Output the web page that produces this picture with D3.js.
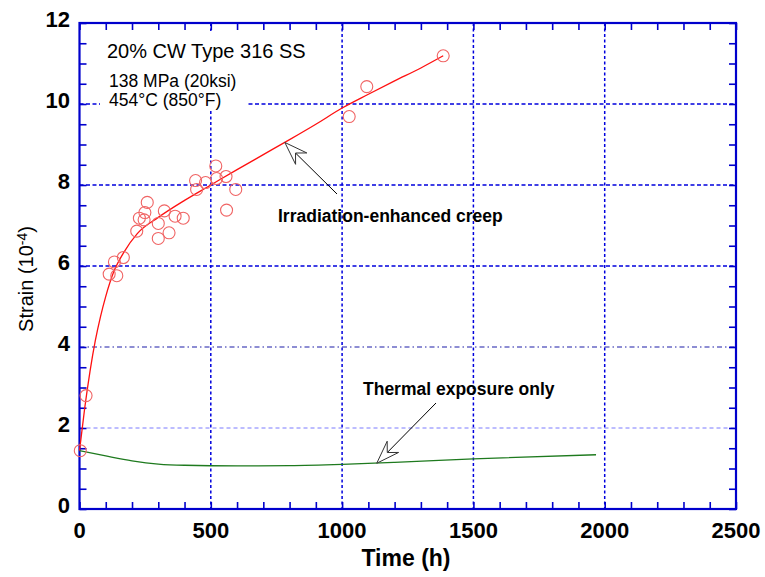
<!DOCTYPE html>
<html>
<head>
<meta charset="utf-8">
<script src="https://cdn.jsdelivr.net/npm/d3@7/dist/d3.min.js"></script>
<style>
  html, body { margin: 0; padding: 0; background: #fff; }
  svg { display: block; }
</style>
</head>
<body>
<div id="chart"></div>
<script>
// ---------- data ----------
const xTicks = [0, 500, 1000, 1500, 2000, 2500];
const yTicks = [0, 2, 4, 6, 8, 10, 12];

// measured strain points (time h, strain 1e-4)
const pointTime   = [3, 25, 113, 142, 133, 167, 218, 228, 246, 249, 258, 323, 300, 341, 300, 364, 395, 442, 446, 480, 519, 522, 558, 595, 560, 1027, 1094, 1385];
const pointStrain = [1.44, 2.80, 5.80, 5.76, 6.10, 6.21, 6.86, 7.18, 7.14, 7.32, 7.57, 7.36, 7.05, 6.82, 6.68, 7.23, 7.18, 8.11, 7.89, 8.06, 8.47, 8.16, 8.21, 7.89, 7.38, 9.69, 10.43, 11.19];

// irradiation-enhanced creep fit
const creepTime   = [0, 20, 40, 60, 80, 100, 130, 170, 220, 300, 400, 500, 600, 700, 800, 900, 1000, 1100, 1200, 1300, 1385];
const creepStrain = [1.44, 2.5, 3.4, 4.15, 4.75, 5.25, 5.85, 6.35, 6.8, 7.2, 7.62, 8.0, 8.38, 8.75, 9.12, 9.5, 9.9, 10.24, 10.57, 10.89, 11.19];

// thermal exposure only
const thermTime   = [0, 100, 200, 300, 400, 600, 800, 1000, 1200, 1500, 1967];
const thermStrain = [1.44, 1.31, 1.19, 1.11, 1.08, 1.065, 1.07, 1.10, 1.15, 1.24, 1.34];

const titleLines = ["20% CW Type 316 SS", "138 MPa (20ksi)", "454°C (850°F)"];
const annotCreep = "Irradiation-enhanced creep";
const annotTherm = "Thermal exposure only";

// ---------- layout ----------
const W = 765, H = 577;
const L = 79.5, R = 736, T = 23, B = 509;
const FONT = "'Liberation Sans', Arial, sans-serif";
const AXIS = "#0000cc";

const svg = d3.select("#chart").append("svg")
  .attr("width", W).attr("height", H)
  .style("background", "#fff");

const x = d3.scaleLinear().domain([0, 2500]).range([L, R]);
const y = d3.scaleLinear().domain([0, 12]).range([B, T]);

// ---------- grid ----------
const grid = svg.append("g");
[500, 1000, 1500, 2000].forEach(v => {
  grid.append("line")
    .attr("x1", x(v)).attr("x2", x(v)).attr("y1", T).attr("y2", B)
    .attr("stroke", "#0000dd").attr("stroke-width", 1.5)
    .attr("stroke-dasharray", "3,2.5");
});
const yGridStyle = {
  2:  {c: "#7a7aff", w: 1,   d: "4,3"},
  4:  {c: "#1c1ca8", w: 1.2, d: "5,3,1.5,3"},
  6:  {c: "#0000dd", w: 1.7, d: "4,2.5"},
  8:  {c: "#0000dd", w: 1.7, d: "4,2.5"},
  10: {c: "#0000dd", w: 1.7, d: "4,2.5"}
};
[2, 4, 6, 8, 10].forEach(v => {
  const s = yGridStyle[v];
  grid.append("line")
    .attr("x1", L).attr("x2", R).attr("y1", y(v)).attr("y2", y(v))
    .attr("stroke", s.c).attr("stroke-width", s.w)
    .attr("stroke-dasharray", s.d);
});

// white box behind the condition text block
svg.append("rect")
  .attr("x", 100).attr("y", 31).attr("width", 147).attr("height", 79)
  .attr("fill", "#fff");

// ---------- axes (ticks inward on all four sides) ----------
const TL = 7;
const xMinor = d3.range(0, 2501, 100);
const yMinor = d3.range(0, 12.01, 0.5);

const gBottom = svg.append("g").attr("transform", `translate(0,${B})`)
  .call(d3.axisBottom(x).tickValues(xMinor).tickSize(-TL).tickFormat(""));
const gTop = svg.append("g").attr("transform", `translate(0,${T})`)
  .call(d3.axisTop(x).tickValues(xMinor).tickSize(-TL).tickFormat(""));
const gLeft = svg.append("g").attr("transform", `translate(${L},0)`)
  .call(d3.axisLeft(y).tickValues(yMinor).tickSize(-TL).tickFormat(""));
const gRight = svg.append("g").attr("transform", `translate(${R},0)`)
  .call(d3.axisRight(y).tickValues(yMinor).tickSize(-TL).tickFormat(""));
[gBottom, gTop, gLeft, gRight].forEach(g => {
  g.select(".domain").remove();
  g.selectAll(".tick line").attr("stroke", AXIS).attr("stroke-width", 1.6);
});
svg.append("rect")
  .attr("x", L).attr("y", T).attr("width", R - L).attr("height", B - T)
  .attr("fill", "none").attr("stroke", AXIS).attr("stroke-width", 2.2);

// tick labels
svg.append("g").selectAll("text").data(xTicks).join("text")
  .attr("x", d => x(d)).attr("y", 538)
  .attr("text-anchor", "middle")
  .attr("font-family", FONT).attr("font-weight", "bold").attr("font-size", 22)
  .attr("fill", "#000").text(d => d);
svg.append("g").selectAll("text").data(yTicks).join("text")
  .attr("x", 70).attr("y", d => y(d) + 3.8)
  .attr("text-anchor", "end")
  .attr("font-family", FONT).attr("font-weight", "bold").attr("font-size", 22)
  .attr("fill", "#000").text(d => d);

// axis titles
svg.append("text")
  .attr("x", 406).attr("y", 566)
  .attr("text-anchor", "middle")
  .attr("font-family", FONT).attr("font-weight", "bold").attr("font-size", 23)
  .attr("fill", "#000").text("Time (h)");
const yl = svg.append("text")
  .attr("transform", "translate(33,279) rotate(-90)")
  .attr("text-anchor", "middle")
  .attr("font-family", FONT).attr("font-size", 20).attr("fill", "#000");
yl.append("tspan").text("Strain (10");
yl.append("tspan").attr("dy", -6).attr("font-size", 14).text("-4");
yl.append("tspan").attr("dy", 6).text(")");

// ---------- curves ----------
const creepData = creepTime.map((t, i) => [t, creepStrain[i]]);
const thermData = thermTime.map((t, i) => [t, thermStrain[i]]);
const line = d3.line().x(d => x(d[0])).y(d => y(d[1])).curve(d3.curveMonotoneX);

svg.append("path").datum(thermData).attr("d", line)
  .attr("fill", "none").attr("stroke", "#1e7a1e").attr("stroke-width", 1.3);
svg.append("path").datum(creepData).attr("d", line)
  .attr("fill", "none").attr("stroke", "#ff1010").attr("stroke-width", 1.3);

// ---------- points ----------
const pts = pointTime.map((t, i) => [t, pointStrain[i]]);
svg.append("g").selectAll("circle").data(pts).join("circle")
  .attr("cx", d => x(d[0])).attr("cy", d => y(d[1])).attr("r", 6)
  .attr("fill", "none").attr("stroke", "#f06464").attr("stroke-width", 1.1);

// ---------- texts ----------
svg.append("text").attr("x", 107).attr("y", 58)
  .attr("font-family", FONT).attr("font-size", 20).attr("fill", "#000")
  .text(titleLines[0]);
svg.append("text").attr("x", 109).attr("y", 87)
  .attr("font-family", FONT).attr("font-size", 17.5).attr("fill", "#000")
  .text(titleLines[1]);
svg.append("text").attr("x", 109).attr("y", 106)
  .attr("font-family", FONT).attr("font-size", 17.5).attr("fill", "#000")
  .text(titleLines[2]);

svg.append("text").attr("x", 278).attr("y", 222)
  .attr("font-family", FONT).attr("font-weight", "bold").attr("font-size", 17.5)
  .attr("fill", "#000").text(annotCreep);
svg.append("text").attr("x", 363).attr("y", 395)
  .attr("font-family", FONT).attr("font-weight", "bold").attr("font-size", 17.5)
  .attr("fill", "#000").text(annotTherm);

// ---------- arrows ----------
function arrow(tailT, tailS, tipT, tipS) {
  const tx = x(tipT), ty = y(tipS);
  const sx = x(tailT), sy = y(tailS);
  const dx = sx - tx, dy = sy - ty, len = Math.hypot(dx, dy);
  const ux = dx / len, uy = dy / len, px = -uy, py = ux;
  const AL = 23, AW = 8, AN = 15;
  svg.append("line")
    .attr("x1", tx + ux * AN).attr("y1", ty + uy * AN)
    .attr("x2", sx).attr("y2", sy)
    .attr("stroke", "#000").attr("stroke-width", 1);
  const head = [
    [tx, ty],
    [tx + ux * AL + px * AW, ty + uy * AL + py * AW],
    [tx + ux * AN, ty + uy * AN],
    [tx + ux * AL - px * AW, ty + uy * AL - py * AW]
  ];
  svg.append("path")
    .attr("d", "M" + head.map(p => p.join(",")).join("L") + "Z")
    .attr("fill", "#fff").attr("stroke", "#333").attr("stroke-width", 1);
}
arrow(x.invert(337), y.invert(194), 782, 9.05);
arrow(x.invert(436), y.invert(403), 1132, 1.13);
</script>
</body>
</html>
